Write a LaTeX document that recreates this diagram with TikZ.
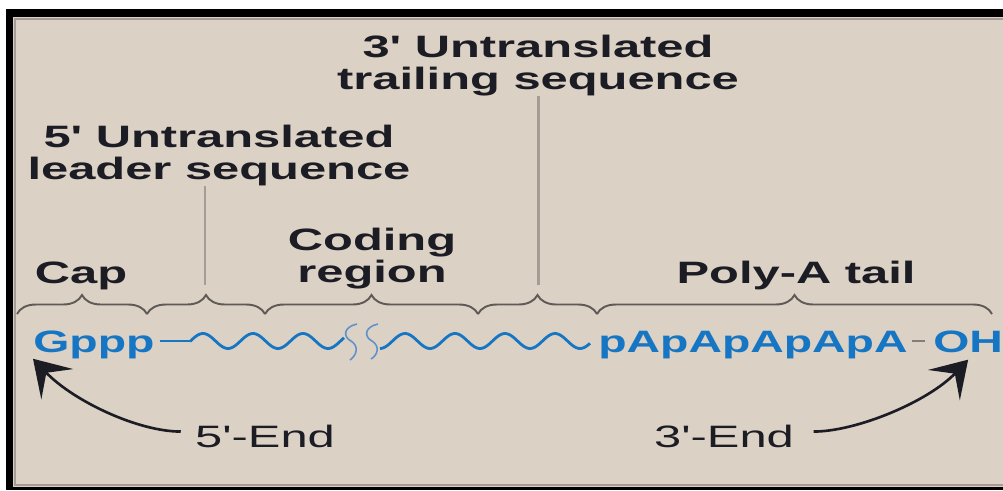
\documentclass[tikz,border=0pt]{standalone}
\usepackage{fontspec}
\newfontfamily\labelfont[FakeStretch=1.58,Ligatures=TeXOff]{Liberation Sans}
\newfontfamily\seqfont[FakeStretch=1.5,Ligatures=TeXOff]{Liberation Sans}
\usetikzlibrary{arrows.meta,decorations.pathreplacing}
\definecolor{paper}{RGB}{219,209,197}
\definecolor{rnablue}{RGB}{22,118,196}
\definecolor{cutblue}{RGB}{95,145,205}
\definecolor{leadgrey}{RGB}{165,156,150}
\definecolor{bracegrey}{RGB}{95,90,86}
\definecolor{ink}{RGB}{28,28,36}

\begin{document}
\begin{tikzpicture}[x=0.02cm,y=-0.02cm,
  lbl/.style={font=\labelfont\bfseries\fontsize{17.6}{18.1}\selectfont, text=ink, inner sep=0pt, align=center},
  seq/.style={font=\seqfont\bfseries\fontsize{17.6}{18.1}\selectfont, text=rnablue, inner sep=0pt},
  endlbl/.style={font=\labelfont\fontsize{17.6}{18.1}\selectfont, text=ink, inner sep=0pt},
  brc/.style={decorate, decoration={brace, amplitude=0.38cm}, draw=bracegrey, line width=1.1pt},
  lead/.style={draw=leadgrey, line width=1.7pt},
  rna/.style={draw=rnablue, line width=1.6pt},
  cut/.style={draw=cutblue, line width=0.9pt},
  endarrow/.style={draw=ink, line width=1.5pt, -{Stealth[length=20pt,width=25pt,inset=9pt]}}]
  \useasboundingbox (0,0) rectangle (1003,490);
  \fill[black] (6,9) rectangle (1003,490);
  \fill[paper] (13,17) rectangle (1003,487);
  \draw[leadgrey, line width=1.2pt] (1003,19) -- (15,19) -- (15,485) -- (1003,485);

  \node[lbl, anchor=north] (trail) at (538,35) {3' Untranslated\\trailing sequence};
  \node[lbl, anchor=north] (leader) at (219,125) {5' Untranslated\\leader sequence};
  \node[lbl, anchor=north] (coding) at (372,228) {Coding\\region};
  \node[lbl, anchor=base] (cap) at (81,283) {Cap};
  \node[lbl, anchor=base] (poly) at (796,283) {Poly-A tail};

  \node[seq, anchor=base west] (gppp) at (33,352) {Gppp};
  \node[seq, anchor=base west] (tailseq) at (598,352) {pApApApApA};
  \node[seq, anchor=base west] (oh) at (933,352) {OH};
  \node[endlbl, anchor=base] (end5) at (265,447) {5'-End};
  \node[endlbl, anchor=base] (end3) at (724,447) {3'-End};

  \coordinate (b0) at (17,314);
  \coordinate (b1) at (147,314);
  \coordinate (b2) at (265,314);
  \coordinate (b3) at (478,314);
  \coordinate (b4) at (597,314);
  \coordinate (b5) at (992,314);
  \foreach \a/\b in {b0/b1,b1/b2,b2/b3,b3/b4,b4/b5}
    \draw[brc] (\a) -- (\b);

  \coordinate (t1) at (205,285);
  \coordinate (t3) at (538,285);
  \draw[lead] (t1 |- leader.south) -- (t1);
  \draw[lead] (t3 |- trail.south) -- (t3);

  \coordinate (w0) at (190,341);
  \draw[rna, shorten <=2.8pt] (gppp.east |- w0) -- (w0);
  \draw[rna] plot[domain=190:344, samples=90, smooth] (\x,{341-7.5*sin(7.2*(\x-190.5))});
  \draw[rna] plot[domain=380:590, samples=120, smooth] (\x,{341-7.5*sin(7.2*(\x-392.5))});
  \draw[cut] (357,324) .. controls (343,327) and (343,337) .. (351,341) .. controls (359,346) and (357,355) .. (350,360);
  \draw[cut] (378,324) .. controls (364,327) and (364,337) .. (372,341) .. controls (380,346) and (378,355) .. (371,359);
  \draw[draw=leadgrey!80!black, line width=1.1pt, shorten <=2.5pt, shorten >=4.5pt] (tailseq.east |- oh.west) -- (oh.west);

  \draw[endarrow] ([xshift=-8pt,yshift=2.5pt]end5.west) .. controls +(-43,0) and +(40,42) .. (gppp.south west);
  \draw[endarrow] ([xshift=11pt,yshift=2.5pt]end3.east) .. controls +(43,0) and +(-40,42) .. ([shift={(0,7)}]oh.south);
\end{tikzpicture}
\end{document}
